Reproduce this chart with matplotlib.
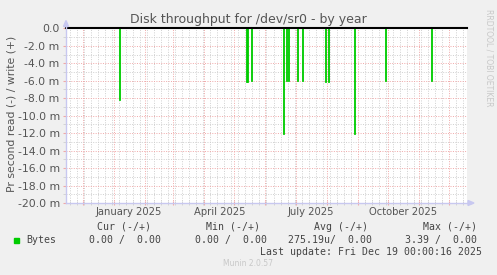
import matplotlib
matplotlib.use("Agg")
import matplotlib.pyplot as plt
import matplotlib.dates as mdates
from matplotlib.patches import Polygon, Rectangle
from matplotlib.lines import Line2D
from matplotlib.ticker import FuncFormatter, MultipleLocator
import pandas as pd

# ---------------- data ----------------
title = "Disk throughput for /dev/sr0 - by year"
ylabel = "Pr second read (-) / write (+)"
range_end = "2025-12-19 00:00:16"
range_days = 400

spike_dates = ["2025-01-06", "2025-05-13", "2025-05-14", "2025-05-18",
               "2025-06-19", "2025-06-22", "2025-06-24", "2025-07-03",
               "2025-07-08", "2025-07-31", "2025-08-03", "2025-08-29",
               "2025-09-29", "2025-11-14"]
read_milli = [-8.2, -6.2, -6.1, -6.0,
              -12.1, -6.0, -6.0, -6.0,
              -6.0, -6.2, -6.2, -12.1,
              -6.0, -6.0]

month_labels = ["January 2025", "April 2025", "July 2025", "October 2025"]
month_label_dates = ["2025-01-16", "2025-04-16", "2025-07-16", "2025-10-16"]

legend_headers = ["Cur (-/+)", "Min (-/+)", "Avg (-/+)", "Max (-/+)"]
legend_name = "Bytes"
legend_values = ["0.00 /  0.00", "0.00 /  0.00", "275.19u/  0.00", "3.39 /  0.00"]
last_update = "Last update: Fri Dec 19 00:00:16 2025"
footer = "Munin 2.0.57"
side_text = "RRDTOOL / TOBI OETIKER"

# ---------------- layout ----------------
W, H = 497, 275
BG = "#f0f0f0"
TXT = "#555555"
GREEN = "#00cc00"
RED_GRID = "#f0a8a8"
GRAY_GRID = "#cfcfcf"
AXIS_C = "#c8c8f0"

def fx(x):
    return x / W

def fy(y):
    return 1 - y / H

fig = plt.figure(figsize=(W / 100, H / 100), dpi=100, facecolor=BG)
L, R, T, B = 66, 467, 28.3, 203
ax = fig.add_axes([fx(L), fy(B), (R - L) / W, (B - T) / H])
ax.set_facecolor("white")

end = pd.Timestamp(range_end)
start = end - pd.Timedelta(days=range_days)
ax.set_xlim(start, end)
ax.set_ylim(-20, 0)

# grid
ax.yaxis.set_major_locator(MultipleLocator(2))
ax.yaxis.set_minor_locator(MultipleLocator(1))
ax.xaxis.set_major_locator(mdates.MonthLocator())
ax.xaxis.set_minor_locator(mdates.WeekdayLocator(byweekday=mdates.MO))
ax.grid(which="minor", color=GRAY_GRID, linestyle=(0, (1, 1.5)), linewidth=0.7)
ax.grid(which="major", color=RED_GRID, linestyle=(0, (1, 1.5)), linewidth=0.7)
ax.set_axisbelow(True)

ax.xaxis.set_major_formatter(FuncFormatter(lambda v, p: ""))
ax.yaxis.set_major_formatter(FuncFormatter(lambda v, p: "0.0" if abs(v) < 1e-9 else f"{v:.1f} m"))
ax.tick_params(axis="y", which="major", length=2, color=RED_GRID, labelsize=7.8, labelcolor=TXT, pad=2.5)
ax.tick_params(axis="y", which="minor", length=2, color=GRAY_GRID)
ax.tick_params(axis="x", which="major", length=3, direction="inout", color=RED_GRID)
ax.tick_params(axis="x", which="minor", length=3, direction="inout", color=GRAY_GRID)

for s in ["top", "right", "left", "bottom"]:
    ax.spines[s].set_visible(False)

# data
dates = pd.to_datetime(spike_dates)
ax.bar(dates, read_milli, width=1.0, color=GREEN, edgecolor=GREEN, linewidth=0.6, zorder=3)
ax.axhline(0, color="black", linewidth=1.5, zorder=4, clip_on=False)

# month labels centred mid-month
for d, lab in zip(month_label_dates, month_labels):
    ax.text(pd.Timestamp(d), -0.053, lab, transform=ax.get_xaxis_transform(),
            ha="center", va="center", fontsize=7.2, color=TXT)

# axes lines and arrows
fig.add_artist(Line2D([fx(L), fx(L)], [fy(B), fy(23)], color=AXIS_C, linewidth=1))
fig.add_artist(Line2D([fx(L), fx(471)], [fy(B), fy(B)], color=AXIS_C, linewidth=1))
fig.add_artist(Polygon([(fx(63.5), fy(26.5)), (fx(68.5), fy(26.5)), (fx(66), fy(20.5))],
                       closed=True, color=AXIS_C, transform=fig.transFigure))
fig.add_artist(Polygon([(fx(468), fy(200.5)), (fx(468), fy(205.5)), (fx(474), fy(203))],
                       closed=True, color=AXIS_C, transform=fig.transFigure))

# title and labels
fig.text(fx(248), fy(19.3), title, ha="center", va="center", fontsize=9, color=TXT)
fig.text(fx(11.5), fy(114), ylabel, ha="center", va="center", rotation=90, fontsize=7.8, color=TXT)
fig.text(fx(488.5), fy(58), side_text, ha="center", va="center", rotation=270,
         fontsize=5.5, color="#c8c8c8")

# legend
mono = "DejaVu Sans Mono"
LEG = "#444444"
hdr_right = [150.7, 260, 368.3, 476.7]
val_right = [160.7, 266.7, 371.7, 476.7]
for h, xr in zip(legend_headers, hdr_right):
    fig.text(fx(xr), fy(226.7), h, ha="right", va="center", fontsize=7.1, family=mono, color=LEG)
fig.add_artist(Rectangle((fx(14), fy(242.5)), 5 / W, 5 / H, color=GREEN, transform=fig.transFigure))
fig.text(fx(26), fy(239.7), legend_name, ha="left", va="center", fontsize=7.1, family=mono, color=LEG)
for v, xr in zip(legend_values, val_right):
    fig.text(fx(xr), fy(239.7), v, ha="right", va="center", fontsize=7.1, family=mono, color=LEG)
fig.text(fx(482.3), fy(251.7), last_update, ha="right", va="center", fontsize=7.1, family=mono, color=LEG)
fig.text(fx(247.8), fy(263.3), footer, ha="center", va="center", fontsize=5.5, color="#c8c8c8")

fig.savefig("out.png", dpi=100, facecolor=BG)
